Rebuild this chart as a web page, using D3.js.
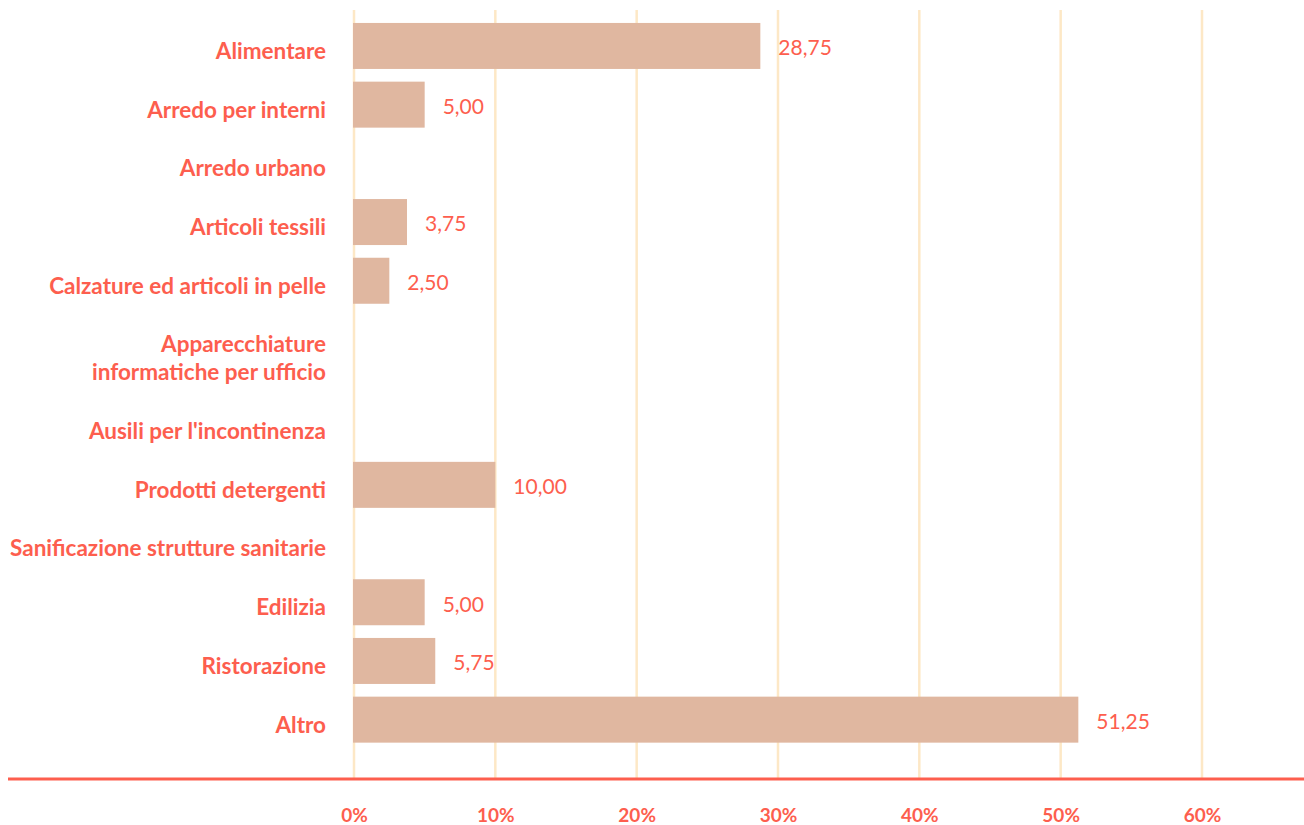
<!DOCTYPE html>
<html>
<head>
<meta charset="utf-8">
<script src="https://cdn.jsdelivr.net/npm/d3@7"></script>
<style>
  html, body { margin: 0; padding: 0; background: #ffffff; }
  svg { display: block; }
  .cat { font-family: Lato, "Open Sans", sans-serif; font-weight: 700; font-size: 22.5px; fill: #fd5e4e; }
  .val { font-family: Lato, "Open Sans", sans-serif; font-weight: 400; font-size: 21px; fill: #fd5e4e; }
  .tick-label { font-family: Lato, "Open Sans", sans-serif; font-weight: 700; font-size: 19px; fill: #fd5e4e; }
</style>
</head>
<body>
<svg id="chart" width="1304" height="825"></svg>
<script>
// Categories (each entry is the list of lines of its label)
const categories = [
  ["Alimentare"],
  ["Arredo per interni"],
  ["Arredo urbano"],
  ["Articoli tessili"],
  ["Calzature ed articoli in pelle"],
  ["Apparecchiature", "informatiche per ufficio"],
  ["Ausili per l'incontinenza"],
  ["Prodotti detergenti"],
  ["Sanificazione strutture sanitarie"],
  ["Edilizia"],
  ["Ristorazione"],
  ["Altro"]
];
// Percentages; null where no bar is drawn
const values = [28.75, 5.00, null, 3.75, 2.50, null, null, 10.00, null, 5.00, 5.75, 51.25];
const tickValues = [0, 10, 20, 30, 40, 50, 60];

const svg = d3.select("#chart");
const W = 1304, H = 825;

const x = d3.scaleLinear().domain([0, 60]).range([354, 1202]);

// Row heights grow with the number of label lines
const lineH = 28;
const baseRow = 58.7;
const rowH = categories.map(c => baseRow + (c.length - 1) * lineH);
const top0 = 16.6;
const rowTop = [];
rowH.reduce((acc, h, i) => { rowTop[i] = acc; return acc + h; }, top0);
const rowCenter = i => rowTop[i] + rowH[i] / 2;
const barH = 46;

// Vertical grid
svg.append("g").selectAll("line").data(tickValues).join("line")
  .attr("x1", d => x(d)).attr("x2", d => x(d))
  .attr("y1", 10).attr("y2", 778)
  .attr("stroke", "#fde8c6").attr("stroke-width", 2.5);

// Bars
const rows = categories.map((c, i) => ({ lines: c, v: values[i], i }));
svg.append("g").selectAll("rect").data(rows.filter(d => d.v != null)).join("rect")
  .attr("x", x(0) - 1)
  .attr("y", d => rowCenter(d.i) - barH / 2)
  .attr("width", d => x(d.v) - x(0) + 1)
  .attr("height", barH)
  .attr("fill", "#e0b7a0");

// Value labels
const fmt = v => d3.format(".2f")(v).replace(".", ",");
svg.append("g").selectAll("text").data(rows.filter(d => d.v != null)).join("text")
  .attr("class", "val")
  .attr("x", d => x(d.v) + 18)
  .attr("y", d => rowCenter(d.i) + 2)
  .attr("dy", "0.35em")
  .text(d => fmt(d.v));

// Category labels
const catG = svg.append("g").selectAll("text").data(rows).join("text")
  .attr("class", "cat")
  .attr("text-anchor", "end")
  .attr("x", 326)
  .attr("y", d => rowCenter(d.i) + 5 - (d.lines.length - 1) * lineH / 2);
catG.selectAll("tspan").data(d => d.lines).join("tspan")
  .attr("x", 326)
  .attr("dy", (d, j) => j === 0 ? "0.35em" : lineH)
  .text(d => d);

// Axis line
svg.append("line")
  .attr("x1", 8).attr("x2", W)
  .attr("y1", 779).attr("y2", 779)
  .attr("stroke", "#fd5e4e").attr("stroke-width", 3);

// Tick labels
const axis = d3.axisBottom(x).tickValues(tickValues).tickSize(0).tickPadding(0)
  .tickFormat(d => d + "%");
const ag = svg.append("g").attr("transform", "translate(0,808)").call(axis);
ag.select(".domain").remove();
ag.selectAll("text").attr("class", "tick-label").attr("fill", null).attr("font-size", null).attr("font-family", null);
</script>
</body>
</html>
